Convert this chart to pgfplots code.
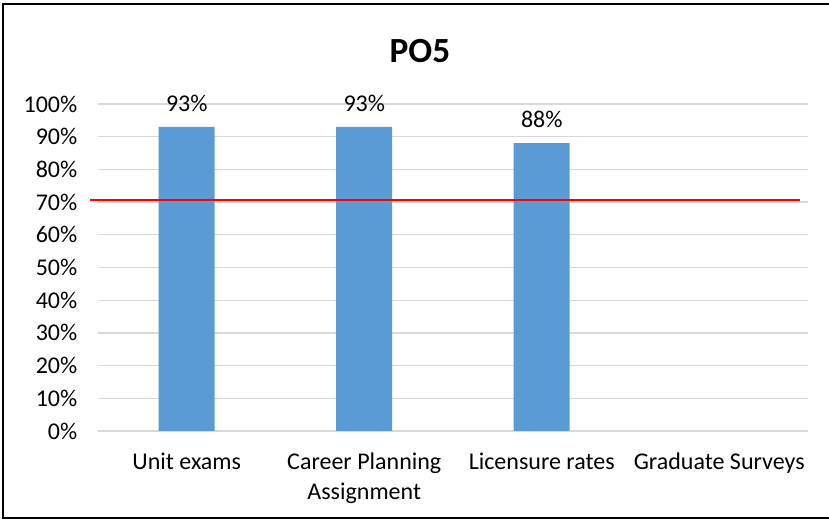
\documentclass[border=0pt]{standalone}
\usepackage{pgfplots}
\pgfplotsset{compat=1.18}
\usepackage{fontspec}
\setmainfont{Carlito}
\definecolor{barblue}{HTML}{5B9BD5}
\definecolor{gridgray}{HTML}{D9D9D9}

\begin{document}
\begin{tikzpicture}[x=0.75pt,y=0.75pt]
% page: 829 x 520 px, 1px = 0.75pt
\useasboundingbox (0,0) rectangle (829,520);
\draw[black, line width=1.2pt] (3,2) rectangle (835,516);
\node[font=\fontsize{26.5}{30}\selectfont\bfseries] at (420,469) {PO5};
\begin{axis}[
    at={(73.5pt,66.75pt)}, anchor=south west,
    scale only axis,
    width=532.5pt, height=245.25pt,
    xmin=-0.5, xmax=3.5,
    ymin=0, ymax=100,
    ytick={0,10,...,100},
    xtick={0,1,2,3},
    xticklabels={Unit exams, Career Planning\\Assignment, Licensure rates, Graduate Surveys},
    xticklabel style={align=center, yshift=-13pt, font=\fontsize{18}{22}\selectfont},
    yticklabel={\pgfmathprintnumber{\tick}\%},
    yticklabel style={xshift=-12pt, font=\fontsize{18}{20}\selectfont},
    /pgf/number format/assume math mode=true,
    major tick length=0pt,
    axis line style={draw=none},
    ymajorgrids,
    grid style={gridgray, line width=1pt},
    clip=false,
    ybar, bar width=42pt,
    nodes near coords={\pgfmathprintnumber{\pgfplotspointmeta}\%},
    nodes near coords style={font=\fontsize{18}{20}\selectfont, yshift=8pt},
]
\addplot[fill=barblue, draw=none] coordinates {
    (0,93)
    (1,93)
    (2,88)
};
\addplot[sharp plot, red, line width=1.5pt, nodes near coords={}, forget plot] coordinates {
    (-0.545,70.6)
    (3.455,70.6)
};
\end{axis}
\end{tikzpicture}
\end{document}
